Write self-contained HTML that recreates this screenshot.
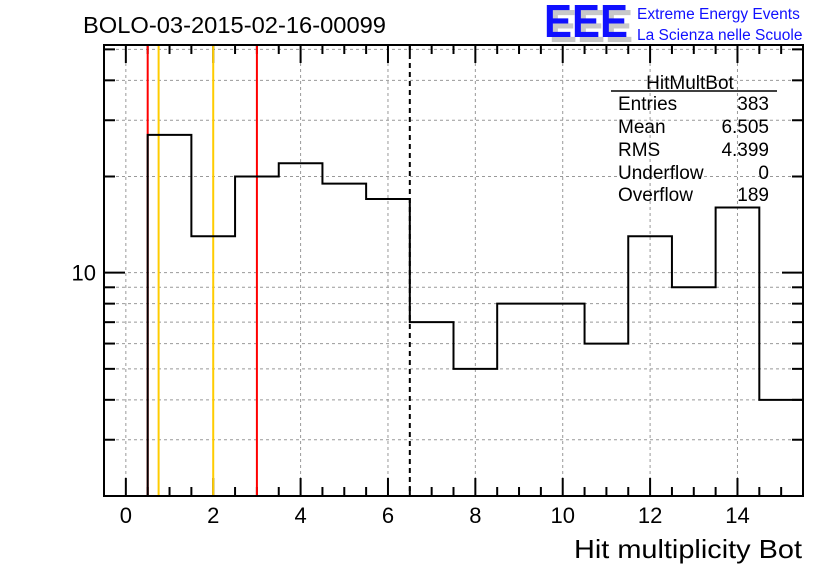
<!DOCTYPE html>
<html><head><meta charset="utf-8"><style>
body{margin:0;background:#fff;}
svg text{font-family:"Liberation Sans",sans-serif;}
</style></head><body>
<svg id="chart" width="836" height="572" viewBox="0 0 836 572" xmlns="http://www.w3.org/2000/svg">
<rect width="836" height="572" fill="#fff"/>
<text x="83" y="33" font-size="23" textLength="303" lengthAdjust="spacingAndGlyphs">BOLO-03-2015-02-16-00099</text>
<g>
<text x="549" y="42" font-size="46" font-weight="bold" fill="#c8c8c8" textLength="84" lengthAdjust="spacingAndGlyphs">EEE</text>
<text x="544" y="37" font-size="46" font-weight="bold" fill="#1010ff" textLength="84" lengthAdjust="spacingAndGlyphs">EEE</text>
<text x="637" y="19" font-size="15.5" fill="#1010ff">Extreme Energy Events</text>
<text x="637" y="40" font-size="15.5" fill="#1010ff">La Scienza nelle Scuole</text>
</g>
<g id="grid"></g>
<g id="axes"></g>
<g id="marks"></g>
<g font-size="19">
<text x="690" y="89" text-anchor="middle">HitMultBot</text>
<line x1="611" y1="91" x2="777" y2="91" stroke="#000" stroke-width="1.5"/>
<text x="618" y="110">Entries</text><text x="769" y="110" text-anchor="end">383</text>
<text x="618" y="133">Mean</text><text x="769" y="133" text-anchor="end">6.505</text>
<text x="618" y="156">RMS</text><text x="769" y="156" text-anchor="end">4.399</text>
<text x="618" y="179">Underflow</text><text x="769" y="179" text-anchor="end">0</text>
<text x="618" y="201">Overflow</text><text x="769" y="201" text-anchor="end">189</text>
</g>
<text x="574" y="558" font-size="26" textLength="228" lengthAdjust="spacingAndGlyphs">Hit multiplicity Bot</text>
</svg>
<script>
const binEdgesLow = [0.5,1.5,2.5,3.5,4.5,5.5,6.5,7.5,8.5,9.5,10.5,11.5,12.5,13.5,14.5];
const binCounts = [27,13,20,22,19,17,7,5,8,8,6,13,9,16,4];
const xTickLabels = [0,2,4,6,8,10,12,14];
const yLabeledTicks = [10];
const yMinorTicks = [2,3,4,5,6,7,8,9,20,30,40,50];
const cutLines = [{x:0.5,c:"#ff0000"},{x:0.75,c:"#ffcc00"},{x:2,c:"#ffcc00"},{x:3,c:"#ff0000"}];
const meanLine = [6.5];

const L=104,R=803,T=45,B=496;
const xMin=-0.5,xMax=15.5,yMin=2,yMax=51.6;
const X=v=>L+(v-xMin)/(xMax-xMin)*(R-L);
const Y=v=>B-(Math.log10(v)-Math.log10(yMin))/(Math.log10(yMax)-Math.log10(yMin))*(B-T);
const NS="http://www.w3.org/2000/svg";
function mk(p,tag,a){const e=document.createElementNS(NS,tag);for(const k in a)e.setAttribute(k,a[k]);p.appendChild(e);return e;}
const grid=document.getElementById('grid'),marks=document.getElementById('marks'),axes=document.getElementById('axes');
xTickLabels.forEach(v=>{const g=mk(grid,'line',{x1:X(v),x2:X(v),y1:T,y2:B,stroke:'#999','stroke-dasharray':'3,3','stroke-width':1});

});
yLabeledTicks.concat(yMinorTicks).forEach(v=>{const g=mk(grid,'line',{x1:L,x2:R,y1:Y(v),y2:Y(v),stroke:'#999','stroke-dasharray':'3,3','stroke-width':1});

});
for(let v=-0.5;v<=15.5;v+=0.5){const major=Math.abs(v%2)<1e-9;const len=major?18:9;
if(v<=xMin||v>=xMax)continue;
mk(axes,'line',{x1:X(v),x2:X(v),y1:B,y2:B-len,stroke:'#000','stroke-width':2});
mk(axes,'line',{x1:X(v),x2:X(v),y1:T,y2:T+len,stroke:'#000','stroke-width':2});}
xTickLabels.forEach(v=>{const t=mk(axes,'text',{x:X(v),y:B+27,'font-size':22,'text-anchor':'middle'});t.textContent=v;

});
yLabeledTicks.forEach(v=>{mk(axes,'line',{x1:L,x2:L+21,y1:Y(v),y2:Y(v),stroke:'#000','stroke-width':2});
mk(axes,'line',{x1:R,x2:R-21,y1:Y(v),y2:Y(v),stroke:'#000','stroke-width':2});
const t=mk(axes,'text',{x:L-8,y:Y(v)+8,'font-size':22,'text-anchor':'end'});t.textContent=v;

});
yMinorTicks.forEach(v=>{mk(axes,'line',{x1:L,x2:L+11,y1:Y(v),y2:Y(v),stroke:'#000','stroke-width':2});
mk(axes,'line',{x1:R,x2:R-11,y1:Y(v),y2:Y(v),stroke:'#000','stroke-width':2});});
cutLines.forEach(c=>{const l=mk(marks,'line',{x1:X(c.x),x2:X(c.x),y1:T,y2:B,stroke:c.c,'stroke-width':2});

});
let d='M'+X(binEdgesLow[0])+','+B;
binCounts.forEach((c,i)=>{const x0=X(binEdgesLow[i]),x1=X(binEdgesLow[i]+1),y=Y(c);d+=' L'+x0+','+y+' L'+x1+','+y;});
d+=' L'+X(binEdgesLow[binEdgesLow.length-1]+1)+','+B;
const h=mk(marks,'path',{d:d,fill:'none',stroke:'#000','stroke-width':2});


meanLine.forEach(v=>{const l=mk(marks,'line',{x1:X(v),x2:X(v),y1:T,y2:B,stroke:'#000','stroke-width':2,'stroke-dasharray':'5,4'});

});
const fr=mk(marks,'rect',{x:L,y:T,width:R-L,height:B-T,fill:'none',stroke:'#000','stroke-width':2});


</script>
</body></html>
